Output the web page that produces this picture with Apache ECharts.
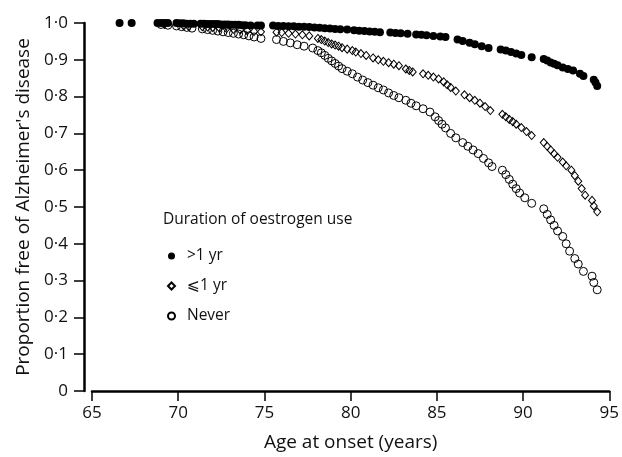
<!DOCTYPE html>
<html>
<head>
<meta charset="utf-8">
<script src="https://cdn.jsdelivr.net/npm/echarts@6/dist/echarts.min.js"></script>
<style>
  html, body { margin: 0; padding: 0; background: #fff; }
  #chart { width: 622px; height: 457px; }
</style>
</head>
<body>
<div id="chart"></div>
<script>
// values: [age at onset, proportion free]
const overOneYear = [
  [66.6, 1.0], [67.3, 1.0], [68.8, 1.0], [69.0, 1.0], [69.2, 1.0], [69.4, 1.0], [69.9, 1.0],
  [70.1, 0.999], [70.3, 0.999], [70.5, 0.998], [70.7, 0.998], [70.9, 0.998], [71.3, 0.998],
  [71.5, 0.998], [71.7, 0.997], [71.9, 0.997], [72.1, 0.997], [72.3, 0.997], [72.5, 0.996],
  [72.7, 0.996], [72.9, 0.996], [73.1, 0.995], [73.3, 0.995], [73.5, 0.995], [73.7, 0.994],
  [73.9, 0.994], [74.2, 0.993], [74.6, 0.993], [74.8, 0.993], [75.5, 0.993], [75.8, 0.992],
  [76.1, 0.992], [76.4, 0.991], [76.7, 0.991], [77.0, 0.990], [77.3, 0.990], [77.6, 0.989],
  [77.9, 0.988], [78.2, 0.987], [78.5, 0.986], [78.8, 0.985], [79.1, 0.984], [79.4, 0.983],
  [79.8, 0.982], [80.2, 0.980], [80.5, 0.979], [80.8, 0.978], [81.1, 0.977], [81.4, 0.976],
  [81.7, 0.975], [82.3, 0.974], [82.6, 0.973], [82.9, 0.972], [83.3, 0.971], [83.8, 0.969],
  [84.1, 0.968], [84.4, 0.967], [84.8, 0.965], [85.2, 0.963], [85.5, 0.962], [86.2, 0.955],
  [86.5, 0.951], [86.9, 0.946], [87.2, 0.942], [87.6, 0.937], [88.0, 0.932], [88.7, 0.928],
  [89.0, 0.925], [89.3, 0.921], [89.6, 0.917], [89.9, 0.913], [90.5, 0.907], [91.2, 0.902],
  [91.4, 0.898], [91.6, 0.893], [91.8, 0.889], [92.0, 0.885], [92.3, 0.879], [92.6, 0.875],
  [92.9, 0.871], [93.3, 0.862], [93.5, 0.856], [94.1, 0.846], [94.2, 0.838], [94.3, 0.829]
];

const upToOneYear = [
  [69.2, 0.996], [70.3, 0.993], [70.6, 0.991], [71.4, 0.990], [71.7, 0.989], [72.0, 0.988],
  [72.4, 0.986], [72.8, 0.985], [73.2, 0.983], [73.6, 0.981], [74.0, 0.979], [74.4, 0.977],
  [74.8, 0.976], [75.7, 0.975], [76.0, 0.974], [76.4, 0.972], [76.8, 0.970], [77.2, 0.968],
  [77.6, 0.965], [78.1, 0.958], [78.3, 0.955], [78.5, 0.951], [78.7, 0.947], [78.9, 0.943],
  [79.1, 0.940], [79.3, 0.937], [79.5, 0.933], [79.8, 0.929], [80.1, 0.925], [80.3, 0.921],
  [80.6, 0.917], [80.9, 0.912], [81.3, 0.905], [81.6, 0.900], [81.9, 0.896], [82.2, 0.892],
  [82.5, 0.888], [82.8, 0.884], [83.2, 0.875], [83.4, 0.871], [83.6, 0.867], [84.2, 0.862],
  [84.5, 0.858], [84.8, 0.853], [85.1, 0.848], [85.4, 0.840], [85.6, 0.832], [85.8, 0.825],
  [86.1, 0.815], [86.6, 0.805], [86.9, 0.797], [87.2, 0.790], [87.5, 0.782], [87.8, 0.773],
  [88.1, 0.762], [88.8, 0.752], [89.0, 0.745], [89.2, 0.738], [89.4, 0.732], [89.6, 0.725],
  [89.9, 0.716], [90.2, 0.705], [90.5, 0.694], [91.2, 0.675], [91.4, 0.665], [91.6, 0.655],
  [91.8, 0.645], [92.0, 0.635], [92.3, 0.622], [92.5, 0.612], [92.8, 0.600], [93.0, 0.585],
  [93.2, 0.570], [93.4, 0.550], [93.6, 0.532], [94.0, 0.518], [94.1, 0.503], [94.3, 0.487]
];

const never = [
  [69.0, 0.996], [69.4, 0.994], [69.9, 0.992], [70.2, 0.990], [70.5, 0.988], [70.8, 0.986],
  [71.4, 0.984], [71.7, 0.982], [72.0, 0.980], [72.3, 0.978], [72.6, 0.976], [72.9, 0.974],
  [73.2, 0.972], [73.5, 0.970], [73.8, 0.968], [74.1, 0.965], [74.4, 0.962], [74.8, 0.958],
  [75.7, 0.955], [76.1, 0.950], [76.5, 0.946], [76.9, 0.941], [77.3, 0.937], [77.8, 0.932],
  [78.1, 0.925], [78.3, 0.919], [78.5, 0.912], [78.7, 0.904], [78.9, 0.897], [79.1, 0.890],
  [79.3, 0.883], [79.5, 0.876], [79.8, 0.869], [80.1, 0.862], [80.4, 0.853], [80.7, 0.845],
  [81.0, 0.838], [81.3, 0.831], [81.6, 0.824], [81.9, 0.818], [82.2, 0.810], [82.5, 0.803],
  [82.8, 0.797], [83.2, 0.790], [83.5, 0.782], [83.8, 0.775], [84.2, 0.767], [84.6, 0.758],
  [84.9, 0.745], [85.1, 0.735], [85.3, 0.725], [85.5, 0.715], [85.8, 0.700], [86.1, 0.688],
  [86.5, 0.675], [86.8, 0.665], [87.1, 0.655], [87.4, 0.645], [87.7, 0.632], [88.0, 0.620],
  [88.2, 0.610], [88.8, 0.600], [89.0, 0.588], [89.2, 0.575], [89.4, 0.562], [89.6, 0.550],
  [89.8, 0.538], [90.1, 0.525], [90.5, 0.510], [91.2, 0.495], [91.4, 0.480], [91.6, 0.465],
  [91.8, 0.450], [92.0, 0.435], [92.3, 0.420], [92.5, 0.400], [92.7, 0.380], [93.0, 0.360],
  [93.2, 0.345], [93.5, 0.325], [94.0, 0.312], [94.1, 0.295], [94.3, 0.275]
];

const seriesNames = ['>1 yr', '\u2A7D1 yr', 'Never'];

const font = '"Open Sans", "DejaVu Sans", sans-serif';
const ink = '#111';

var myChart = echarts.init(document.getElementById('chart'));
myChart.setOption({
  animation: false,
  textStyle: { fontFamily: font, color: ink },
  title: {
    text: 'Duration of oestrogen use',
    left: 163,
    top: 212,
    padding: 0,
    textStyle: { fontFamily: font, fontSize: 15.5, fontWeight: 'normal', color: ink }
  },
  legend: {
    orient: 'vertical',
    left: 167,
    top: 248,
    padding: 0,
    itemGap: 14,
    itemWidth: 7,
    itemHeight: 7,
    textStyle: { fontFamily: font, fontSize: 15.5, color: ink, padding: [0, 0, 0, 7] },
    data: seriesNames
  },
  grid: { left: 92, right: 7, top: 23, bottom: 64 },
  xAxis: {
    type: 'value',
    min: 65,
    max: 95,
    interval: 5,
    name: 'Age at onset (years)',
    nameLocation: 'middle',
    nameGap: 42,
    nameTextStyle: { fontSize: 19, color: ink },
    axisLine: { show: true, lineStyle: { color: '#000', width: 2.5 } },
    axisTick: { show: true, inside: false, length: 10, lineStyle: { color: '#000', width: 1.5 } },
    axisLabel: { fontSize: 17, color: ink, margin: 14 },
    splitLine: { show: false }
  },
  yAxis: {
    type: 'value',
    min: 0,
    max: 1,
    interval: 0.1,
    offset: 8,
    name: "Proportion free of Alzheimer's disease",
    nameLocation: 'middle',
    nameGap: 50,
    nameTextStyle: { fontSize: 19, color: ink },
    axisLine: { show: true, lineStyle: { color: '#000', width: 2.5 } },
    axisTick: { show: true, inside: false, length: 10, lineStyle: { color: '#000', width: 1.5 } },
    axisLabel: {
      fontSize: 17,
      color: ink,
      margin: 16,
      formatter: function (v) {
        return v === 0 ? '0' : v.toFixed(1).replace('.', '\u00B7');
      }
    },
    splitLine: { show: false }
  },
  series: [
    {
      name: seriesNames[0],
      type: 'scatter',
      symbol: 'circle',
      symbolSize: 8,
      itemStyle: { color: '#000', opacity: 1 },
      data: overOneYear
    },
    {
      name: seriesNames[1],
      type: 'scatter',
      symbol: 'diamond',
      symbolSize: [7, 8],
      itemStyle: { color: 'rgba(255,255,255,0)', borderColor: '#000', borderWidth: 1, opacity: 1 },
      data: upToOneYear
    },
    {
      name: seriesNames[2],
      type: 'scatter',
      symbol: 'circle',
      symbolSize: 8,
      itemStyle: { color: 'rgba(255,255,255,0)', borderColor: '#000', borderWidth: 1, opacity: 1 },
      data: never
    }
  ]
});
</script>
</body>
</html>
